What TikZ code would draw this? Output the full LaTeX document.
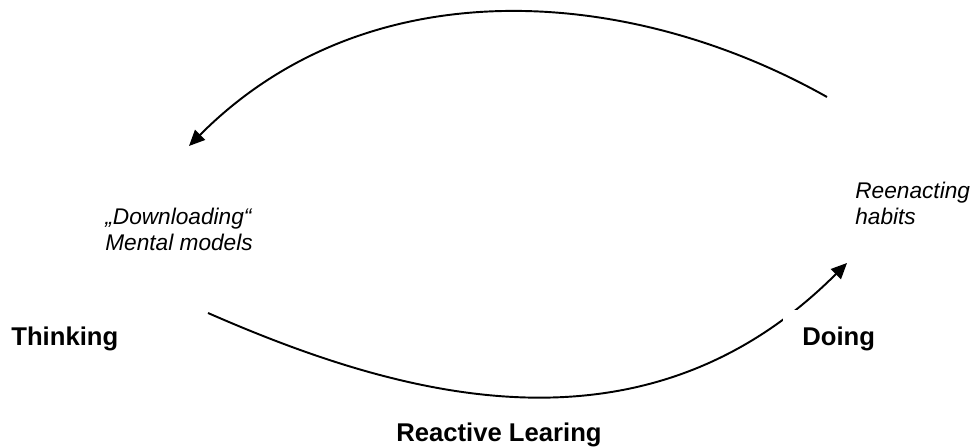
\documentclass[tikz,border=0pt]{standalone}
\usepackage{fontspec}
\setmainfont{Liberation Sans}
\usepackage{tikz}
\usetikzlibrary{arrows.meta,positioning}

\tikzset{
    stage/.style={font=\fontsize{14.6}{17}\selectfont\bfseries, inner sep=0pt, anchor=base west},
    note/.style={font=\fontsize{12.9}{15.2}\selectfont\itshape, align=left, inner sep=0pt, anchor=base west},
    cyclearrow/.style={line width=1.1pt, -{Triangle[length=9pt,width=8pt]}}
}

\begin{document}
\begin{tikzpicture}[x=0.02cm, y=-0.02cm]
\useasboundingbox (0,0) rectangle (974,448);

% ends of the two arcs
\coordinate (habits-out) at (827,97);
\coordinate (models-in) at (189,146);
\coordinate (thinking-out) at (208,313);
\coordinate (doing-in) at (847,263);

\draw[cyclearrow] (habits-out) .. controls (630,-14) and (368,-34) .. (models-in);
\draw[cyclearrow] (thinking-out) .. controls (400,397) and (643,467) .. (doing-in);

% base of a two-line note is its last line
\node[note] (downloading) at (105,251) {„Downloading“\\Mental models};
\node[note] (reenacting) at (855,225) {Reenacting\\habits};

\node[stage] (thinking) at (11,346) {Thinking};
\node[stage, inner xsep=10.8pt, inner ysep=10pt, fill=white] (doing) at (783,346) {Doing};
\node[stage, anchor=base] (learning) at (499,442) {Reactive Learing};
\end{tikzpicture}
\end{document}
